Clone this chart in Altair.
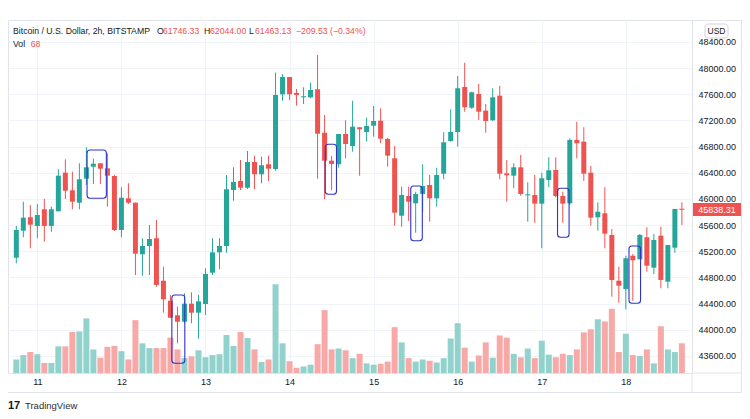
import altair as alt
import numpy as np
import pandas as pd

# ---- data (BTC/USD, 2h candles, Aug 10 18:00 -> Aug 18 16:00) ----
day_labels = ["11", "12", "13", "14", "15", "16", "17", "18"]
hours = [-6 + 2 * i for i in range(96)]  # hours since day 11 00:00

opens = [45102, 45515, 45720, 45587, 45842, 45587, 45811, 46402, 46132, 45943,
         46310, 46493, 46545, 46469, 46351, 45525, 46010, 45943, 45154, 45281,
         45399, 44750, 44444, 44221, 44123, 44399, 44261, 44394, 44873, 45184,
         45281, 46137, 46275, 46172, 46565, 46377, 46530, 46458, 47600, 47865,
         47620, 47554, 47554, 47677, 47013, 46585, 46530, 46993, 46810, 47096,
         47024, 47120, 47197, 46917, 46622, 45744, 46045, 45934, 46076, 46214,
         46010, 46386, 46886, 47024, 47712, 47395, 47605, 47350, 47203, 47579,
         46392, 46356, 46484, 46056, 46061, 45928, 46290, 46443, 46045, 45934,
         46902, 46876, 46402, 45720, 45781, 45449, 44750, 44623, 45132, 45077,
         45414, 44949, 45438, 44735, 45255, 45847]
highs = [45587, 45958, 45908, 45923, 45999, 45882, 46454, 46606, 46417, 46545,
         46790, 46616, 46545, 46698, 46370, 46178, 46240, 45943, 45399, 45602,
         45678, 44964, 44532, 44353, 44558, 44573, 44532, 44940, 45399, 45399,
         46366, 46484, 46596, 46733, 46662, 46646, 46662, 47931, 47906, 47865,
         47681, 47707, 47778, 48201, 47284, 46657, 46993, 47203, 47502, 47096,
         47243, 47421, 47386, 46937, 46810, 46188, 46188, 46111, 46530, 46366,
         46478, 47019, 47371, 47880, 48083, 47640, 47758, 47452, 47692, 47727,
         46596, 46545, 46672, 46255, 46366, 46402, 46637, 46637, 46111, 46928,
         47181, 47096, 46504, 45949, 46178, 45541, 44964, 45132, 45159, 45464,
         45567, 45464, 45576, 45296, 45847, 45949]
lows = [45016, 45414, 45246, 45399, 45347, 45499, 45811, 45999, 45842, 45842,
        46214, 46229, 46229, 45882, 45510, 45414, 45923, 44837, 44827, 44837,
        44659, 44261, 44180, 43793, 44099, 44099, 43863, 44226, 44837, 44925,
        45178, 45973, 46137, 46152, 46148, 46240, 46275, 46432, 47502, 47513,
        47426, 47452, 47539, 46310, 45995, 46137, 46478, 46622, 46723, 46356,
        46876, 46952, 46851, 46493, 45591, 45576, 45663, 45484, 45805, 45652,
        45882, 46301, 46876, 46799, 47334, 47376, 47207, 47013, 47192, 46301,
        45958, 46163, 46050, 45652, 45637, 45246, 46178, 46025, 45637, 45908,
        46622, 46275, 45591, 45515, 45246, 44506, 44414, 44313, 44444, 45077,
        44888, 44853, 44634, 44634, 45178, 45602]
closes = [45525, 45714, 45607, 45755, 45587, 45842, 46356, 46126, 45958, 46301,
          46484, 46539, 46463, 46356, 45525, 46019, 45943, 45163, 45281, 45388,
          44685, 44466, 44185, 44123, 44399, 44261, 44435, 44853, 45184, 45281,
          46148, 46259, 46172, 46565, 46377, 46515, 46463, 47590, 47865, 47600,
          47590, 47570, 47666, 46998, 46585, 46535, 46993, 46840, 47105, 47065,
          47116, 47192, 46921, 46662, 45790, 46061, 45958, 46076, 46198, 46010,
          46366, 46866, 47024, 47692, 47402, 47631, 47334, 47192, 47554, 46386,
          46362, 46484, 46076, 46071, 45928, 46316, 46438, 46045, 45928, 46902,
          46851, 46386, 45714, 45805, 45469, 44761, 44674, 45093, 45062, 45449,
          44980, 45373, 44761, 45296, 45847, 45838.31]
volumes = [31, 41, 48, 43, 23, 23, 61, 61, 94, 95,
           125, 54, 35, 60, 62, 50, 31, 121, 68, 57,
           57, 57, 81, 54, 34, 38, 52, 36, 41, 43,
           87, 62, 94, 80, 54, 25, 31, 203, 68, 27,
           12, 15, 19, 66, 144, 54, 56, 52, 34, 44,
           22, 19, 21, 26, 105, 70, 34, 26, 31, 28,
           24, 34, 79, 114, 58, 26, 40, 70, 35, 86,
           81, 44, 36, 56, 34, 74, 42, 36, 44, 41,
           54, 93, 100, 123, 118, 147, 48, 90, 41, 39,
           54, 22, 107, 54, 48, 68]

# highlighted boxes (hours, prices)
box_t0 = [14.2, 38.4, 82.2, 106.6, 148.5, 168.9]
box_t1 = [19.7, 42.1, 85.4, 109.9, 151.8, 172.2]
box_lo = [46010, 43487, 46071, 45362, 45414, 44405]
box_hi = [46749, 44532, 46836, 46198, 46163, 45281]

last_price = [45838.31]

# ---- frames ----
df = pd.DataFrame(dict(t=hours, open=opens, high=highs, low=lows, close=closes, vol=volumes))
mid = (df["open"] + df["close"]) / 2
half = np.maximum((df["close"] - df["open"]).abs() / 2, 8)
df["b_lo"] = mid - half
df["b_hi"] = mid + half
boxes = pd.DataFrame(dict(t0=box_t0, t1=box_t1, lo=box_lo, hi=box_hi))
last_df = pd.DataFrame(dict(price=last_price, label=[f"{p:.2f}" for p in last_price]))
dummy = pd.DataFrame({"a": [0]})

W, H = 684, 353
FONT = "Liberation Sans"
DARK = "#131722"
UP, DOWN = "#26a69a", "#ef5350"
GRID = "#f0f3fa"
BORDER = "#e0e3eb"

xs = alt.Scale(domain=[-6.948, 185.46], nice=False, zero=False)
ys = alt.Scale(domain=[43339, 48736], nice=False, zero=False)
vs = alt.Scale(domain=[0, 808], nice=False)

x_axis = alt.Axis(values=[24 * i for i in range(len(day_labels))],
                  labelExpr="toString(11 + datum.value / 24)",
                  grid=True, gridColor=GRID, ticks=False, domain=False,
                  labelPadding=4, labelFontSize=9, labelColor=DARK, labelFont=FONT, title=None)
y_axis = alt.Axis(orient="right", values=list(range(43600, 48401, 400)), format=".2f",
                  grid=True, gridColor=GRID, ticks=False, domain=False,
                  labelPadding=6, labelFontSize=9, labelColor=DARK, labelFont=FONT, title=None)

col = alt.condition("datum.close >= datum.open", alt.value(UP), alt.value(DOWN))
vcol = alt.condition("datum.close >= datum.open", alt.value("#92d2cc"), alt.value("#f7a9a7"))

base = alt.Chart(df)

volume = base.mark_bar(size=6).encode(
    x=alt.X("t:Q", scale=xs, axis=x_axis),
    y=alt.Y("vol:Q", scale=vs, axis=None),
    color=vcol,
)

wicks = base.mark_rule(strokeWidth=1).encode(
    x=alt.X("t:Q", scale=xs, axis=x_axis),
    y=alt.Y("low:Q", scale=ys, axis=y_axis),
    y2="high:Q",
    color=col,
)
bodies = base.mark_bar(size=5).encode(
    x=alt.X("t:Q", scale=xs, axis=x_axis),
    y=alt.Y("b_lo:Q", scale=ys, axis=y_axis),
    y2="b_hi:Q",
    color=col,
)
box_layer = alt.Chart(boxes).mark_rect(
    fillOpacity=0, stroke="#2f33c8", strokeWidth=1.1, cornerRadius=3
).encode(
    x=alt.X("t0:Q", scale=xs, axis=x_axis), x2="t1:Q",
    y=alt.Y("lo:Q", scale=ys, axis=y_axis), y2="hi:Q",
)
tag = alt.Chart(last_df).mark_tick(
    orient="horizontal", size=48, thickness=13, color=DOWN, opacity=1
).encode(x=alt.value(709), y=alt.Y("price:Q", scale=ys, axis=y_axis))
tag_text = alt.Chart(last_df).mark_text(
    color="white", fontSize=9, font=FONT, align="center", baseline="middle"
).encode(x=alt.value(709), y=alt.Y("price:Q", scale=ys, axis=y_axis), text="label:N")

price = alt.layer(wicks, bodies, box_layer, tag, tag_text)


def txt(s, x, y, color=DARK, size=8.7, align="left", weight="normal"):
    return alt.Chart(dummy).mark_text(
        fontSize=size, font=FONT, align=align, baseline="middle", color=color, fontWeight=weight
    ).encode(x=alt.value(x), y=alt.value(y), text=alt.value(s))


def rule(x1, x2, y1, y2, color=BORDER):
    return alt.Chart(dummy).mark_rule(color=color, strokeWidth=1).encode(
        x=alt.value(x1), x2=alt.value(x2), y=alt.value(y1), y2=alt.value(y2))


header = [
    txt("Bitcoin / U.S. Dollar, 2h, BITSTAMP", 5, 11),
    txt("O", 149, 11), txt("61746.33", 155, 11, DOWN),
    txt("H", 196, 11), txt("62044.00", 202, 11, DOWN),
    txt("L", 241, 11), txt("61463.13", 247, 11, DOWN),
    txt("\u2212209.53 (\u22120.34%)", 288, 11, DOWN),
    txt("Vol", 5, 23.5), txt("68", 22.7, 23.5, DOWN),
]

usd_box = alt.Chart(dummy).mark_rect(
    fill="white", stroke="#d1d4dc", strokeWidth=1, cornerRadius=3
).encode(x=alt.value(697), x2=alt.value(720), y=alt.value(4), y2=alt.value(18))
usd_txt = txt("USD", 708.5, 11, DARK, 8.5, "center")

frame = [
    rule(684, 733.5, 0.5, 0.5),
    rule(733.5, 733.5, 0, 372.5),
    rule(-0.5, 733.5, 372.5, 372.5),
    rule(-0.5, -0.5, 353, 372.5),
    rule(684, 684, 353, 372.5),
    rule(684, 733.5, 353, 353),
]

logo = [
    txt("17", 0, 386, DARK, 11, "left", "bold"),
    txt("TradingView", 17, 386, "#2a2e39", 9.5),
]

chart = alt.layer(
    volume, price, *header, usd_box, usd_txt, *frame, *logo
).resolve_scale(y="independent").properties(
    width=W, height=H,
    padding={"left": 0, "top": 12, "right": 50, "bottom": 38},
    autosize=alt.AutoSizeParams(type="none"),
    background="white",
).configure_view(stroke=BORDER)

chart.save("out.html", embed_options={"renderer": "svg", "actions": False})
